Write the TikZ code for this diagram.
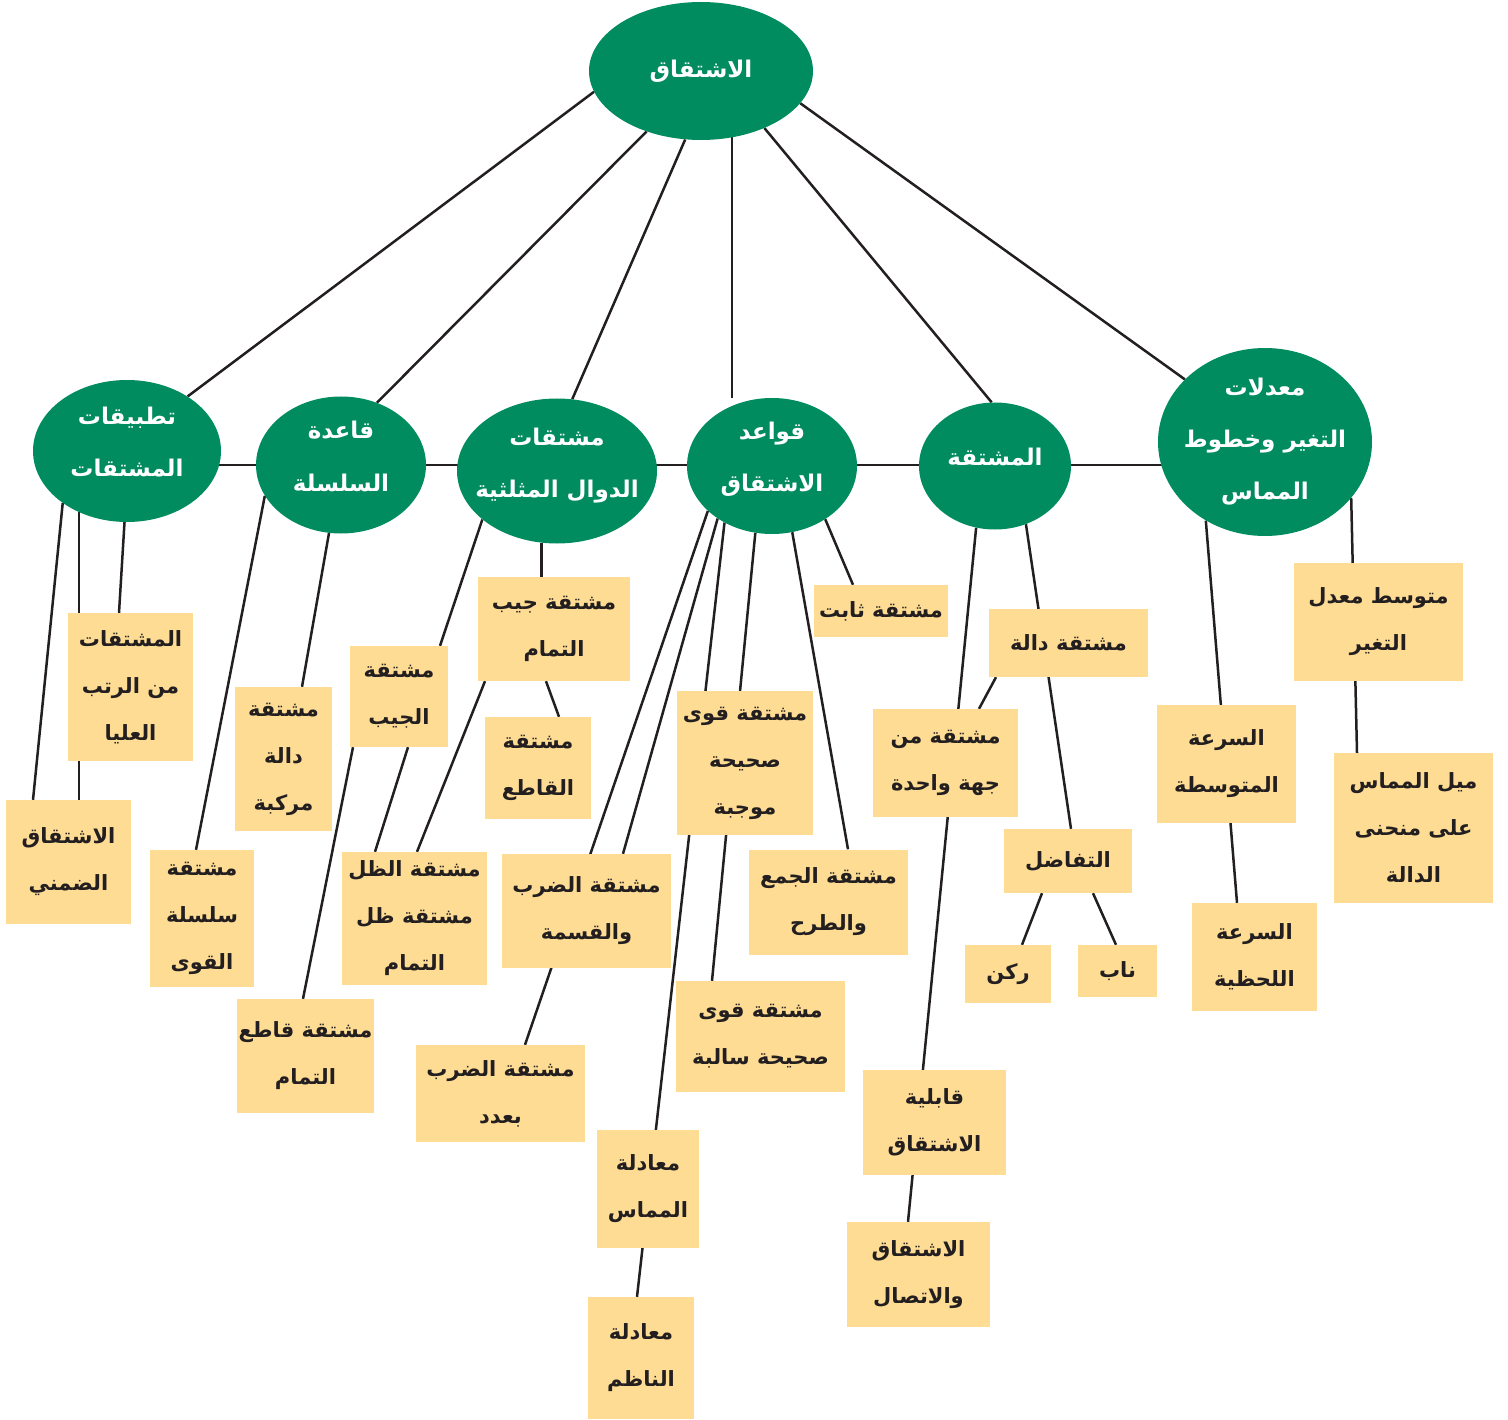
\documentclass[tikz,border=0pt]{standalone}
\usepackage{fontspec}
\usetikzlibrary{shapes.geometric,backgrounds}
\newfontfamily\arabicfont[Script=Arabic]{DejaVu Sans}
\TeXXeTstate=1
\definecolor{topicgreen}{RGB}{0,140,94}
\definecolor{notefill}{RGB}{254,220,148}
\definecolor{inkline}{RGB}{35,31,32}
\newcommand{\rl}[1]{\makebox[0pt]{\beginR #1\endR}}
\newcommand{\rs}[1]{\smash{\rl{#1}}}

\begin{document}
\begin{tikzpicture}[x=1pt,y=-1pt,
   topic/.style={ellipse,fill=topicgreen,text=white,inner xsep=0pt,inner ysep=-30pt,align=center,
     font=\arabicfont\bfseries\fontsize{23}{52}\selectfont},
   note/.style={rectangle,fill=notefill,text=inkline,inner sep=0pt,align=center,
     font=\arabicfont\bfseries\fontsize{21}{47}\selectfont},
   link/.style={draw=inkline,line width=2.5pt}]
 \useasboundingbox (0,0) rectangle (1508,1420);
 \node[topic,minimum width=224,minimum height=138] (root) at (701,71) {\rl{الاشتقاق}};
 \node[topic,minimum width=188,minimum height=142] (apps) at (127,451) {\rs{تطبيقات}\\\rs{المشتقات}};
 \node[topic,minimum width=170,minimum height=137] (chain) at (341,465) {\rs{قاعدة}\\\rs{السلسلة}};
 \node[topic,minimum width=200,minimum height=145] (trig) at (557,471) {\rs{مشتقات}\\\rs{الدوال المثلثية}};
 \node[topic,minimum width=170,minimum height=136] (rules) at (772,466) {\rs{قواعد}\\\rs{الاشتقاق}};
 \node[topic,minimum width=152,minimum height=127] (deriv) at (995,466) {\rs{المشتقة}};
 \node[topic,minimum width=214,minimum height=188] (rates) at (1265,442) {\rl{معدلات}\\\rl{التغير وخطوط}\\\rl{المماس}};

 \node[note,minimum width=125,minimum height=148] (a1) at (130.5,687) {\rl{المشتقات}\\\rl{من الرتب}\\\rl{العليا}};
 \node[note,minimum width=125,minimum height=124] (a2) at (68.5,862) {\rl{الاشتقاق}\\\rl{الضمني}};
 \node[note,minimum width=97,minimum height=144] (c1) at (283.5,759) {\rl{مشتقة}\\\rl{دالة}\\\rl{مركبة}};
 \node[note,minimum width=104,minimum height=137] (c2) at (202,918.5) {\rl{مشتقة}\\\rl{سلسلة}\\\rl{القوى}};
 \node[note,minimum width=137,minimum height=114] (c3) at (305.5,1056) {\rl{مشتقة قاطع}\\\rl{التمام}};
 \node[note,minimum width=98,minimum height=101] (s1) at (399,696.5) {\rl{مشتقة}\\\rl{الجيب}};
 \node[note,minimum width=145,minimum height=133] (t1) at (414.5,918.5) {\rl{مشتقة الظل}\\\rl{مشتقة ظل}\\\rl{التمام}};
 \node[note,minimum width=152,minimum height=104] (t2) at (554,629) {\rl{مشتقة جيب}\\\rl{التمام}};
 \node[note,minimum width=106,minimum height=102] (t3) at (538,768) {\rl{مشتقة}\\\rl{القاطع}};
 \node[note,minimum width=136,minimum height=144] (r1) at (745,763) {\rl{مشتقة قوى}\\\rl{صحيحة}\\\rl{موجبة}};
 \node[note,minimum width=134,minimum height=52] (r2) at (881,611) {\rl{مشتقة ثابت}};
 \node[note,minimum width=169,minimum height=114] (r3) at (586.5,911) {\rl{مشتقة الضرب}\\\rl{والقسمة}};
 \node[note,minimum width=159,minimum height=105] (r4) at (828.5,902) {\rl{مشتقة الجمع}\\\rl{والطرح}};
 \node[note,minimum width=169,minimum height=111] (r5) at (760.5,1036.5) {\rl{مشتقة قوى}\\\rl{صحيحة سالبة}};
 \node[note,minimum width=102,minimum height=118] (r6) at (648,1189) {\rl{معادلة}\\\rl{المماس}};
 \node[note,minimum width=106,minimum height=122] (r7) at (641,1358) {\rl{معادلة}\\\rl{الناظم}};
 \node[note,minimum width=169,minimum height=97] (r8) at (500.5,1093.5) {\rl{مشتقة الضرب}\\\rl{بعدد}};
 \node[note,minimum width=159,minimum height=68] (d1) at (1068.5,643) {\rl{مشتقة دالة}};
 \node[note,minimum width=145,minimum height=108] (d2) at (945.5,763) {\rl{مشتقة من}\\\rl{جهة واحدة}};
 \node[note,minimum width=128,minimum height=64] (d3) at (1068,861) {\rl{التفاضل}};
 \node[note,minimum width=86,minimum height=58] (d4) at (1008,974) {\rl{ركن}};
 \node[note,minimum width=79,minimum height=52] (d5) at (1117.5,971) {\rl{ناب}};
 \node[note,minimum width=143,minimum height=105] (d6) at (934.5,1122.5) {\rl{قابلية}\\\rl{الاشتقاق}};
 \node[note,minimum width=143,minimum height=105] (d7) at (918.5,1274.5) {\rl{الاشتقاق}\\\rl{والاتصال}};
 \node[note,minimum width=169,minimum height=118] (q1) at (1378.5,622) {\rl{متوسط معدل}\\\rl{التغير}};
 \node[note,minimum width=139,minimum height=118] (q2) at (1226.5,764) {\rl{السرعة}\\\rl{المتوسطة}};
 \node[note,minimum width=159,minimum height=150] (q3) at (1413.5,828) {\rl{ميل المماس}\\\rl{على منحنى}\\\rl{الدالة}};
 \node[note,minimum width=125,minimum height=108] (q4) at (1254.5,957) {\rl{السرعة}\\\rl{اللحظية}};

 \begin{scope}[on background layer]
  \draw[link] (root.191) -- (apps.42);
  \draw[link] (root.228) -- (chain.60);
  \draw[link] (root.257) -- (trig.78);
  \draw[link] (root.295) -- (root.295 |- rules.north);
  \draw[link] (root.318) -- (deriv.93);
  \draw[link] (root.342) -- (rates.142);
  \draw[link] (apps.center |- chain.center) -- (rates.center |- chain.center);

  \draw[link] (apps.219) -- ([xshift=-35.5]a2.north);
  \draw[link] (apps.232) -- (apps.232 |- a2.north);
  \draw[link] (apps.268) -- ([xshift=-11.5]a1.north);

  \draw[link] (chain.202) -- ([xshift=-6]c2.north);
  \draw[link] (chain.260) -- ([xshift=18.5]c1.north);

  \draw[link] (trig.213) -- ([xshift=41]s1.north);
  \draw[link] (trig.258) -- (trig.258 |- t2.north);
  \draw[link] ([xshift=-8]t2.south) -- ([xshift=21]t3.north);
  \draw[link] ([xshift=-69]t2.south) -- ([xshift=2.5]t1.north);
  \draw[link] ([xshift=9]s1.south) -- ([xshift=-39.5]t1.north);
  \draw[link] ([xshift=-46]s1.south) -- ([xshift=-2.5]c3.north);

  \draw[link] (rules.215) -- ([xshift=24.5]r8.north);
  \draw[link] (rules.224) -- ([xshift=36.5]r3.north);
  \draw[link] (rules.230) -- ([xshift=-4]r7.north);
  \draw[link] (rules.256) -- ([xshift=-48.5]r5.north);
  \draw[link] (rules.287) -- ([xshift=19.5]r4.north);
  \draw[link] (rules.315) -- ([xshift=-28]r2.north);

  \draw[link] (deriv.253) -- ([xshift=-10.5]d7.north);
  \draw[link] (deriv.298) -- ([xshift=3]d3.north);
  \draw[link] ([xshift=-72.5]d1.south) -- ([xshift=33.5]d2.north);
  \draw[link] ([xshift=-26]d3.south) -- ([xshift=14]d4.north);
  \draw[link] ([xshift=25]d3.south) -- ([xshift=-1.5]d5.north);

  \draw[link] (rates.233) -- ([xshift=-17.5]q4.north);
  \draw[link] (rates.327) -- ([xshift=-56.5]q3.north);
 \end{scope}
\end{tikzpicture}
\end{document}
